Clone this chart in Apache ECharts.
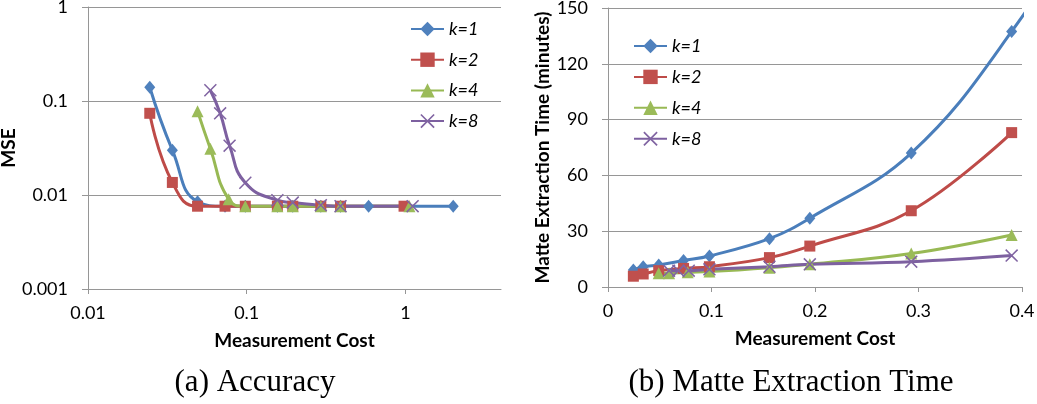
<!DOCTYPE html>
<html><head><meta charset="utf-8">
<script src="https://cdn.jsdelivr.net/npm/echarts@6/dist/echarts.min.js"></script>
<style>html,body{margin:0;padding:0;background:#fff}#c{width:1037px;height:404px}</style>
</head><body><div id="c"></div>
<script>
// ---- data ----
const seriesNames = ['k=1', 'k=2', 'k=4', 'k=8'];

const cost_k1 = [0.0245, 0.034, 0.049, 0.073, 0.098, 0.156, 0.195, 0.293, 0.39, 0.586, 2.0];
const mse_k1  = [0.14, 0.030, 0.0085, 0.0076, 0.0076, 0.0076, 0.0076, 0.0076, 0.0076, 0.0076, 0.0076];
const time_k1 = [9.2, 10.9, 11.8, 14.2, 16.7, 26, 37, 72, 137.4, 300, null];

const cost_k2 = [0.0245, 0.034, 0.049, 0.073, 0.098, 0.156, 0.195, 0.293, 0.39, 0.98];
const mse_k2  = [0.074, 0.0136, 0.0076, 0.0076, 0.0076, 0.0076, 0.0076, 0.0076, 0.0076, 0.0076];
const time_k2 = [5.8, 7.0, 8.8, 10.0, 10.9, 15.8, 22, 41, 83, null];

const cost_k4 = [0.049, 0.059, 0.077, 0.098, 0.156, 0.195, 0.293, 0.39, 1.06];
const mse_k4  = [0.078, 0.031, 0.009, 0.0076, 0.0076, 0.0076, 0.0076, 0.0076, 0.0076];
const time_k4 = [7.4, 7.4, 7.9, 8.3, 10.4, 12.2, 18, 28, null];

const cost_k8 = [0.059, 0.068, 0.078, 0.098, 0.156, 0.195, 0.293, 0.39, 1.11];
const mse_k8  = [0.13, 0.074, 0.0335, 0.0135, 0.0088, 0.0083, 0.0078, 0.0076, 0.0076];
const time_k8 = [8.8, 8.8, 8.8, 9.5, 10.9, 12.2, 13.6, 16.9, null];

const xTicksA = [0.01, 0.1, 1];

const captionA = '(a) Accuracy';
const captionB = '(b) Matte Extraction Time';
const xName = 'Measurement Cost';
const yNameA = 'MSE';
const yNameB = 'Matte Extraction Time (minutes)';

// ---- styling ----
const costs = [cost_k1, cost_k2, cost_k4, cost_k8];
const mses = [mse_k1, mse_k2, mse_k4, mse_k8];
const times = [time_k1, time_k2, time_k4, time_k8];
const lineColors = ['#4A7EBB', '#BE4B48', '#98B954', '#7D60A0'];
const markColors = ['#4F81BD', '#C0504D', '#9BBB59', '#8064A2'];
const xPath = 'path://M0,1L1,0L6,5L11,0L12,1L7,6L12,11L11,12L6,7L1,12L0,11L5,6Z';
const symbols = ['diamond', 'rect', 'triangle', xPath];
const symbolSizes = [[11, 13], 11, 12, 13];

const SANS = 'Lato';
const gridColor = '#969696';
const labelStyle = {fontFamily: SANS, fontSize: 18, color: '#000'};
const nameStyle = {fontFamily: SANS, fontSize: 19, fontWeight: 'bold', color: '#000'};

function zip(xs, ys) { return xs.map((x, i) => [x, ys[i]]); }

const series = [];
for (let g = 0; g < 2; g++) {
  for (let i = 0; i < 4; i++) {
    series.push({
      name: seriesNames[i], type: 'line', smooth: g === 0 ? 0.5 : 0.4,
      symbol: symbols[i], symbolSize: symbolSizes[i], showSymbol: true,
      lineStyle: {color: lineColors[i], width: 3},
      itemStyle: {color: markColors[i]},
      emphasis: {disabled: true}, animation: false, clip: true,
      xAxisIndex: g, yAxisIndex: g,
      data: zip(costs[i], g === 0 ? mses[i] : times[i])
    });
  }
}

const legendText = {fontFamily: SANS, fontSize: 18, fontStyle: 'italic', color: '#000'};

const option = {
  animation: false,
  grid: [
    {left: 88, top: 7, width: 413, height: 282, outerBoundsMode: 'none'},
    {left: 608, top: 8, width: 414, height: 279, outerBoundsMode: 'none'}
  ],
  xAxis: [
    {type: 'log', gridIndex: 0, min: 0.01, max: 4, logBase: 10,
     name: xName, nameLocation: 'middle', nameGap: 42, nameTextStyle: nameStyle,
     axisLine: {lineStyle: {color: gridColor, width: 1}},
     axisTick: {show: true, length: 5, customValues: xTicksA, lineStyle: {color: gridColor}},
     axisLabel: Object.assign({margin: 15, customValues: xTicksA, formatter: v => String(v)}, labelStyle),
     splitLine: {show: false}},
    {type: 'value', gridIndex: 1, min: 0, max: 0.4, interval: 0.1,
     name: xName, nameLocation: 'middle', nameGap: 42, nameTextStyle: nameStyle,
     axisLine: {lineStyle: {color: gridColor, width: 1}},
     axisTick: {show: true, length: 5, lineStyle: {color: gridColor}},
     axisLabel: Object.assign({margin: 15, formatter: v => String(v)}, labelStyle),
     splitLine: {show: false}}
  ],
  yAxis: [
    {type: 'log', gridIndex: 0, min: 0.001, max: 1, logBase: 10,
     name: yNameA, nameLocation: 'middle', nameGap: 62, nameTextStyle: nameStyle,
     axisLine: {show: true, lineStyle: {color: gridColor, width: 1}},
     axisTick: {show: true, length: 6, lineStyle: {color: gridColor}},
     axisLabel: Object.assign({margin: 20, formatter: v => String(v)}, labelStyle),
     splitLine: {show: true, lineStyle: {color: gridColor, width: 1}}},
    {type: 'value', gridIndex: 1, min: 0, max: 150, interval: 30,
     name: yNameB, nameLocation: 'middle', nameGap: 52, nameTextStyle: nameStyle,
     axisLine: {show: true, lineStyle: {color: gridColor, width: 1}},
     axisTick: {show: true, length: 6, lineStyle: {color: gridColor}},
     axisLabel: Object.assign({margin: 20}, labelStyle),
     splitLine: {show: true, lineStyle: {color: gridColor, width: 1}}}
  ],
  legend: [
    {left: 405, top: 15, orient: 'vertical', itemWidth: 33, itemHeight: 18, itemGap: 12.7,
     data: seriesNames, textStyle: legendText, selectedMode: false},
    {left: 628, top: 32, orient: 'vertical', itemWidth: 33, itemHeight: 18, itemGap: 12.9,
     data: seriesNames, textStyle: legendText, selectedMode: false}
  ],
  graphic: [
    {type: 'text', x: 255, y: 383, style: {text: captionA, font: '31px "Liberation Serif"', fill: '#000', textAlign: 'center', textVerticalAlign: 'middle'}},
    {type: 'text', x: 791, y: 383, style: {text: captionB, font: '31px "Liberation Serif"', fill: '#000', textAlign: 'center', textVerticalAlign: 'middle'}}
  ],
  series: series
};

const chart = echarts.init(document.getElementById('c'), null, {renderer: 'canvas'});
chart.setOption(option);
</script>
</body></html>
